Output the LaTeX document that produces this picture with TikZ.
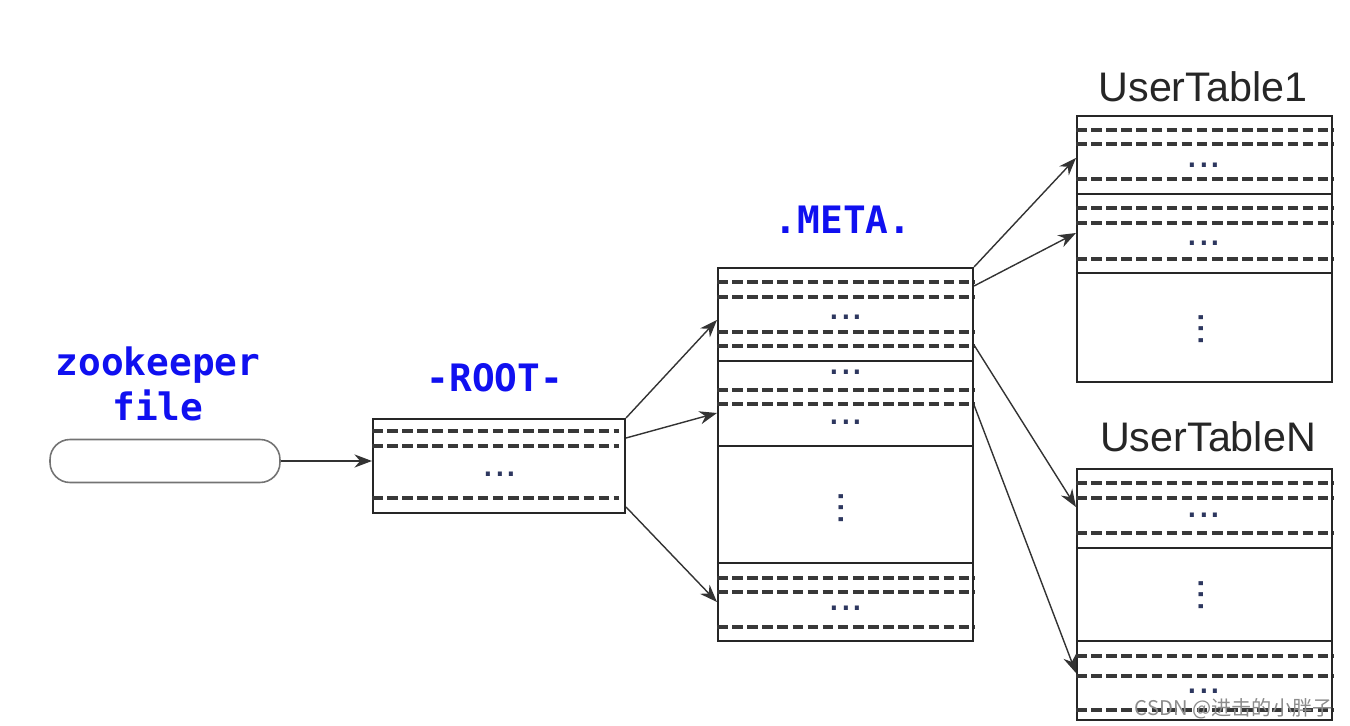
\documentclass[tikz,border=0pt]{standalone}
\usepackage{fontspec}
\setmainfont{Liberation Sans}
\newfontfamily\labelfont{DejaVu Sans Mono}
\newfontfamily\cjkfont{Noto Sans CJK SC}
\usepackage{tikz}
\usetikzlibrary{arrows.meta}
\definecolor{labelblue}{RGB}{16,16,240}
\definecolor{dotcolor}{RGB}{45,55,95}
\tikzset{%
  table box/.style={
    draw=black!85,
    line width=1.2pt,
    inner sep=0pt,
    minimum width=5.1cm
  },
  zk box/.style={
    draw=black!55,
    line width=0.9pt,
    rounded corners=0.4cm,
    minimum width=4.6cm,
    minimum height=0.86cm
  },
  row line/.style={draw=black!78, line width=2pt, dash pattern=on 6pt off 2.6pt},
  split line/.style={draw=black!85, line width=1.2pt},
  row dots/.style={text=dotcolor, font=\fontsize{24}{24}\selectfont, inner sep=0pt},
  blue label/.style={text=labelblue, font=\labelfont\bfseries\fontsize{21.5}{25.6}\selectfont, inner sep=0pt},
  table label/.style={text=black!85, font=\fontsize{23.5}{28}\selectfont, inner sep=0pt},
  link/.style={->, draw=black!80, line width=0.8pt},
}

\begin{document}
\begin{tikzpicture}[> = {Stealth[length=10pt,width=7.5pt]}, x=0.02cm, y=-0.02cm]
\useasboundingbox (0,0) rectangle (1350,726);

% boxes
\node[zk box] (zk) at (165,461) {};
\node[table box, minimum width=5.04cm, minimum height=1.88cm] (root) at (499,466) {};
\node[table box, minimum height=7.46cm] (meta) at (845.5,454.5) {};
\node[table box, minimum height=5.32cm] (ut1) at (1204.5,249) {};
\node[table box, minimum height=5.02cm] (utn) at (1204.5,594.5) {};

% labels
\node[blue label, align=center, anchor=south] (zklabel) at (158,421) {zookeeper\\file};
\node[blue label, anchor=base] (rootlabel) at (495,392) {-ROOT-};
\node[blue label, anchor=base] (metalabel) at (843,234) {.META.};
\node[table label, anchor=base] (ut1label) at (1203,102) {UserTable1};
\node[table label, anchor=base] (utnlabel) at (1208,452) {UserTableN};

% rows
\foreach \y in {431,446,498}
    \draw[row line, shorten >=4pt] (root.west |- 0,\y) -- (root.east |- 0,\y);
\foreach \y in {282,297,332,346,390,404,578,592,627}
    \draw[row line] (meta.west |- 0,\y) -- (meta.east |- 0,\y);
\foreach \y in {361,446,563}
    \draw[split line] (meta.west |- 0,\y) -- (meta.east |- 0,\y);
\foreach \y in {130,144,179,208,223,259}
    \draw[row line] (ut1.west |- 0,\y) -- (ut1.east |- 0,\y);
\foreach \y in {194,273}
    \draw[split line] (ut1.west |- 0,\y) -- (ut1.east |- 0,\y);
\foreach \y in {483,498,533,656,676,710}
    \draw[row line] (utn.west |- 0,\y) -- (utn.east |- 0,\y);
\foreach \y in {548,641}
    \draw[split line] (utn.west |- 0,\y) -- (utn.east |- 0,\y);

% dots
\foreach \x/\y/\n in {500/474/rdots, 846/317/mdotsa, 846/372/mdotsb, 846/422/mdotsc, 846/608/mdotsd,
                      1204/165/udotsa, 1204/243/udotsb, 1204/515/ndotsa, 1204/691/ndotsb}
    \node[row dots] (\n) at (\x,\y) {...};
\foreach \x/\y/\n in {841/508/mvdots, 1201/329/uvdots, 1201/595/nvdots}
    \node[row dots, rotate=90] (\n) at (\x,\y) {...};

% links
\draw[link] (zk.east) -- (zk.east -| root.west);
\draw[link] (root.north east) -- (meta.west |- 0,320);
\draw[link] (root.east |- 0,438) -- (meta.west |- 0,413);
\draw[link] (root.east |- 0,507) -- (meta.west |- 0,602);
\draw[link] (meta.north east) -- (ut1.west |- 0,158);
\draw[link] (meta.east |- 0,286) -- (ut1.west |- 0,233);
\draw[link] (meta.east |- 0,345) -- (utn.west |- 0,507);
\draw[link] (meta.east |- 0,405) -- (utn.west |- 0,673);

\node[text=black!45, font=\cjkfont\fontsize{11.5}{13}\selectfont, anchor=base east, inner sep=0pt] (mark) at (1333,715) {CSDN @进击的小胖子};
\end{tikzpicture}
\end{document}
